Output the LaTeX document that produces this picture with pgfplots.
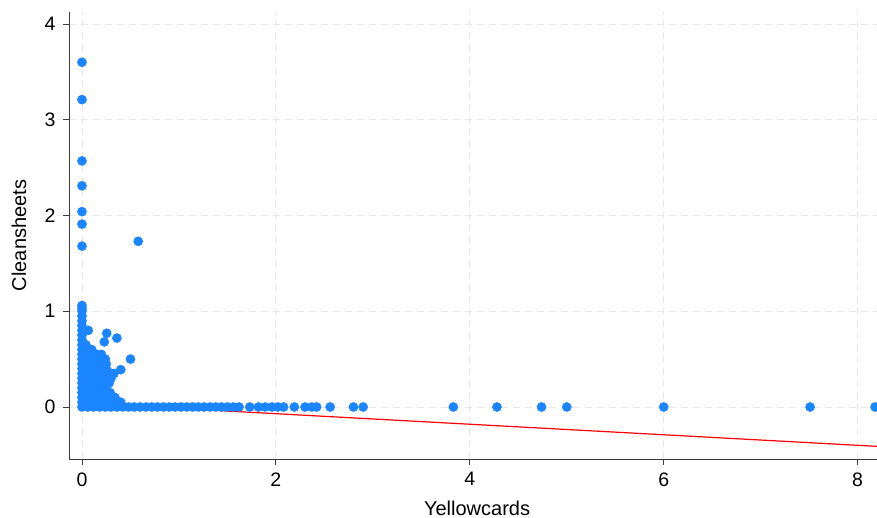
\documentclass[border=0pt]{standalone}
\usepackage{pgfplots}
\pgfplotsset{compat=1.18}
\usepackage{fontspec}
\setmainfont{Liberation Sans}
\usetikzlibrary{calc}
\definecolor{stblue}{RGB}{26,133,255}
\definecolor{axgray}{RGB}{60,60,60}
\definecolor{gridgray}{RGB}{232,232,232}
\begin{document}
\begin{tikzpicture}
\begin{axis}[
  scale only axis, width=808pt, height=447pt,
  xmin=-0.134, xmax=8.2, ymin=-0.543, ymax=4.125,
  axis x line*=bottom, axis y line*=left,
  axis line style={-, draw=axgray, line width=0.9pt},
  xtick={0,2,4,6,8}, ytick={0,1,2,3,4},
  tick align=outside, major tick length=6pt,
  tick style={draw=axgray, line width=0.9pt},
  grid=major,
  major grid style={draw=gridgray, line width=0.9pt, dash pattern=on 7pt off 5pt},
  ticklabel style={font=\fontsize{19.5}{22}\selectfont},
  xticklabel style={yshift=-4pt},
  yticklabel style={xshift=-4pt},
  /pgf/number format/assume math mode=true,
  label style={font=\fontsize{20}{24}\selectfont},
  xlabel={Yellowcards}, ylabel={Cleansheets},
  xlabel style={at={(axis description cs:0.505,-0.11)}, anchor=center},
  ylabel style={at={(axis description cs:-0.062,0.5)}, anchor=center},
  clip=false,
]
\coordinate (sw) at (rel axis cs:0,0);
\coordinate (ne) at (rel axis cs:1,1);
% clean sheets against yellow cards, per player
\addplot[only marks, mark=*, mark size=4.6pt, color=stblue, mark options={draw=stblue, fill=stblue}]
coordinates {
(0,0) (0.06,0) (0.12,0) (0.18,0) (0.24,0) (0.30,0) (0.36,0) (0.42,0) (0.48,0) (0.54,0)
(0.60,0) (0.66,0) (0.72,0) (0.78,0) (0.84,0) (0.90,0) (0.96,0) (1.02,0) (1.08,0) (1.14,0)
(1.20,0) (1.26,0) (1.32,0) (1.38,0) (1.44,0) (1.50,0) (1.56,0) (1.62,0)
(1.73,0) (1.82,0) (1.89,0) (1.96,0) (2.02,0) (2.08,0) (2.19,0) (2.30,0) (2.37,0) (2.42,0)
(2.56,0) (2.80,0) (2.90,0) (3.83,0) (4.28,0) (4.74,0) (5.00,0) (6.00,0) (7.51,0) (8.18,0)
(0,0.05) (0.05,0.05) (0.10,0.05) (0.15,0.05) (0.20,0.05) (0.25,0.05) (0.30,0.05) (0.35,0.05) (0.40,0.05)
(0,0.10) (0.05,0.10) (0.10,0.10) (0.15,0.10) (0.20,0.10) (0.25,0.10) (0.30,0.10) (0.34,0.10)
(0,0.15) (0.05,0.15) (0.10,0.15) (0.15,0.15) (0.20,0.15) (0.25,0.15) (0.29,0.15)
(0,0.20) (0.05,0.20) (0.10,0.20) (0.15,0.20) (0.20,0.20) (0.25,0.20)
(0,0.25) (0.05,0.25) (0.10,0.25) (0.15,0.25) (0.20,0.25) (0.25,0.25) (0.28,0.25)
(0,0.30) (0.05,0.30) (0.10,0.30) (0.15,0.30) (0.20,0.30) (0.25,0.30) (0.30,0.30)
(0,0.35) (0.05,0.35) (0.10,0.35) (0.15,0.35) (0.20,0.35) (0.25,0.35) (0.30,0.35) (0.33,0.35)
(0,0.40) (0.05,0.40) (0.10,0.40) (0.15,0.40) (0.20,0.40) (0.25,0.40)
(0,0.45) (0.05,0.45) (0.10,0.45) (0.15,0.45) (0.20,0.45) (0.25,0.45)
(0,0.50) (0.05,0.50) (0.10,0.50) (0.15,0.50) (0.20,0.50) (0.24,0.50)
(0,0.55) (0.05,0.55) (0.10,0.55) (0.15,0.55) (0.20,0.55)
(0,0.60) (0.05,0.60) (0.10,0.60)
(0,0.65) (0.04,0.65)
(0,0.70) (0,0.75) (0,0.80) (0,0.85) (0,0.90) (0,0.95) (0,1.00) (0,1.03) (0,1.06)
(0.065,0.80) (0.255,0.77) (0.23,0.68) (0.36,0.72) (0.50,0.50) (0.40,0.39) (0.58,1.73)
(0,1.68) (0,1.91) (0,2.04) (0,2.31) (0,2.57) (0,3.21) (0,3.60)
};
% linear fit
\addplot[red, line width=1.2pt] coordinates {(0,0.04) (8.2,-0.411)};
\end{axis}
\pgfresetboundingbox
\path ($(sw)+(-69pt,-59pt)$) rectangle ($(ne)+(0pt,12pt)$);
\end{tikzpicture}
\end{document}
